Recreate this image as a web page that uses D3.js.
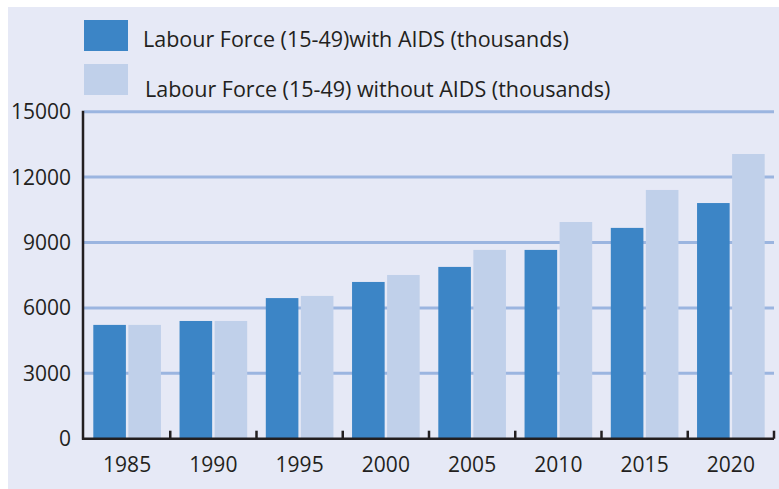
<!DOCTYPE html>
<html>
<head>
<meta charset="utf-8">
<script src="https://cdn.jsdelivr.net/npm/d3@7"></script>
<style>
  body { margin: 0; background: #fff; }
  text { font-family: "Open Sans", sans-serif; fill: #231f20; }
</style>
</head>
<body>
<script>

var years = ["1985", "1990", "1995", "2000", "2005", "2010", "2015", "2020"];
var withAids = [5220, 5400, 6450, 7190, 7880, 8660, 9670, 10810];
var withoutAids = [5220, 5400, 6550, 7510, 8660, 9940, 11410, 13060];
var seriesNames = ["Labour Force (15-49)with AIDS (thousands)", "Labour Force (15-49) without AIDS (thousands)"];
var yTicks = [0, 3000, 6000, 9000, 12000, 15000];

var width = 779, height = 489;
var margin = {left: 84, right: 5, top: 111.7, bottom: 50.3};
var colors = ["#3c85c6", "#c0d0ea"];

var svg = d3.select("body").append("svg")
	.attr("width", width).attr("height", height);

svg.append("rect")
	.attr("x", 8).attr("y", 7)
	.attr("width", width - 8).attr("height", height - 7)
	.style("fill", "#e6e9f6");

var x = d3.scaleBand()
	.domain(years)
	.range([margin.left, width - margin.right]);

var y = d3.scaleLinear()
	.domain([0, 15000])
	.range([height - margin.bottom, margin.top]);

var series = [withAids, withoutAids];
var inner = d3.scaleBand()
	.domain([0, 1])
	.range([9.3, x.bandwidth() - 9.3])
	.paddingInner(0.07);

// gridlines
svg.selectAll(".grid").data(yTicks.slice(1))
	.enter().append("line")
	.attr("class", "grid")
	.attr("x1", margin.left).attr("x2", width - margin.right)
	.attr("y1", function(d){ return y(d); })
	.attr("y2", function(d){ return y(d); })
	.style("stroke", "#9bb5e0")
	.style("stroke-width", 3);

// bars
series.forEach(function(vals, s){
	svg.selectAll(".bar" + s).data(vals)
		.enter().append("rect")
		.attr("class", "bar" + s)
		.attr("x", function(d, i){ return x(years[i]) + inner(s); })
		.attr("y", function(d){ return y(d); })
		.attr("width", inner.bandwidth())
		.attr("height", function(d){ return y(0) - y(d); })
		.style("fill", colors[s]);
});

// y axis
svg.append("line")
	.attr("x1", margin.left - 1).attr("x2", margin.left - 1)
	.attr("y1", y(15000) - 1).attr("y2", y(0) + 1)
	.style("stroke", "#231f20").style("stroke-width", 2.5);

svg.selectAll(".ylab").data(yTicks)
	.enter().append("text")
	.attr("class", "ylab")
	.attr("x", 71)
	.attr("y", function(d){ return y(d); })
	.attr("dy", "0.36em")
	.style("text-anchor", "end")
	.style("font-size", "21px")
	.text(function(d){ return d; });

// x axis
svg.append("line")
	.attr("x1", margin.left - 2).attr("x2", width - margin.right)
	.attr("y1", y(0)).attr("y2", y(0))
	.style("stroke", "#231f20").style("stroke-width", 2.5);

svg.selectAll(".xtick").data(years)
	.enter().append("line")
	.attr("class", "xtick")
	.attr("x1", function(d){ return x(d) + x.bandwidth(); })
	.attr("x2", function(d){ return x(d) + x.bandwidth(); })
	.attr("y1", y(0)).attr("y2", y(0) - 8)
	.style("stroke", "#231f20").style("stroke-width", 2.5);

svg.selectAll(".xlab").data(years)
	.enter().append("text")
	.attr("class", "xlab")
	.attr("x", function(d){ return x(d) + x.bandwidth() / 2; })
	.attr("y", 471.7)
	.style("text-anchor", "middle")
	.style("font-size", "21px")
	.text(function(d){ return d; });

// legend
var legend = svg.selectAll(".legend").data(seriesNames)
	.enter().append("g")
	.attr("class", "legend")
	.attr("transform", function(d, i){ return "translate(0," + i * 44 + ")"; });

legend.append("rect")
	.attr("x", 84).attr("y", 20)
	.attr("width", 44).attr("height", 31)
	.style("fill", function(d, i){ return colors[i]; });

legend.append("text")
	.attr("x", function(d, i){ return i == 0 ? 143 : 145; })
	.attr("y", function(d, i){ return i == 0 ? 46.7 : 52.7; })
	.style("font-size", "21.5px")
	.text(function(d){ return d; });

</script>
</body>
</html>
